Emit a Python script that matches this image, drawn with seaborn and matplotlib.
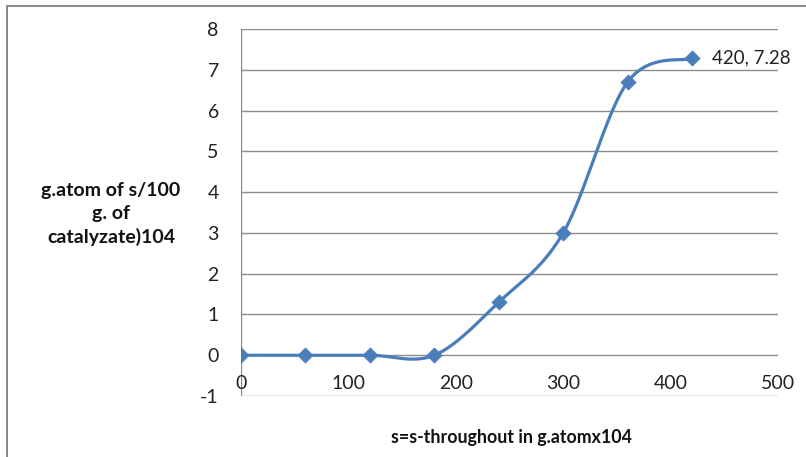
import numpy as np
import pandas as pd
import matplotlib
matplotlib.use('Agg')
import matplotlib.pyplot as plt
import seaborn as sns
from matplotlib.patches import Rectangle

# ===================== 数据 =====================
x_vals = [0, 60, 120, 180, 240, 300, 360, 420]
y_vals = [0, 0, 0, 0, 1.3, 3.0, 6.7, 7.28]
x_ticks = [0, 100, 200, 300, 400, 500]
y_ticks = [-1, 0, 1, 2, 3, 4, 5, 6, 7, 8]
x_label = 's=s-throughout in g.atomx104'
y_label = 'g.atom of s/100\ng. of\ncatalyzate)104'

sns.set_style('white')
plt.rcParams['font.family'] = ['Lato', 'DejaVu Sans']
plt.rcParams['axes.unicode_minus'] = False

BLUE = '#4A7EBB'
GRID = '#8C8C8C'


# -------------------- Excel 风格平滑曲线 --------------------
def smooth_curve(xs, ys, n=40):
    p = np.column_stack([xs, ys]).astype(float)
    pts = []
    for i in range(len(p) - 1):
        p0 = p[i - 1] if i > 0 else p[i]
        p3 = p[i + 2] if i + 2 < len(p) else p[i + 1]
        p1, p2 = p[i], p[i + 1]
        c1 = p1 + (p2 - p0) / 6
        c2 = p2 - (p3 - p1) / 6
        t = np.linspace(0, 1, n)[:, None]
        seg = ((1 - t) ** 3) * p1 + 3 * ((1 - t) ** 2) * t * c1 + 3 * (1 - t) * t ** 2 * c2 + t ** 3 * p2
        pts.append(seg if i == 0 else seg[1:])
    return np.vstack(pts)


curve = smooth_curve(x_vals, y_vals)
df_curve = pd.DataFrame({'x': curve[:, 0], 'y': curve[:, 1]})
df_pts = pd.DataFrame({'x': x_vals, 'y': y_vals})

fig = plt.figure(figsize=(8.06, 4.57), dpi=100)
ax = fig.add_axes([241 / 806, 1 - 396 / 457, (778 - 241) / 806, (396 - 29) / 457])

for yt in y_ticks:
    ax.axhline(yt, color=GRID, lw=1, zorder=0)
ax.axvline(0, color=GRID, lw=1, zorder=0)

sns.lineplot(data=df_curve, x='x', y='y', ax=ax, color=BLUE, lw=2.3, sort=False, zorder=3)
sns.scatterplot(data=df_pts, x='x', y='y', ax=ax, color=BLUE, marker='D', s=60,
                edgecolor=BLUE, linewidth=0.5, zorder=4)

ax.annotate(f'{x_vals[-1]}, {y_vals[-1]}', (x_vals[-1], y_vals[-1]), xytext=(14, 0),
            textcoords='offset points', va='center', ha='left', fontsize=13.5, color='#222222')

ax.set_xlim(0, 500)
ax.set_ylim(-1, 8)
ax.set_xticks(x_ticks)
ax.set_yticks(y_ticks)
ax.xaxis.set_tick_params(length=0, pad=-15, labelsize=14, labelcolor='#222222')
ax.yaxis.set_tick_params(length=0, pad=16, labelsize=14, labelcolor='#222222')
ax.set_xlabel('')
ax.set_ylabel('')
for s in ax.spines.values():
    s.set_visible(False)

fig.text(111 / 806, 1 - 214 / 457, y_label, ha='center', va='center', fontsize=14,
         fontweight='bold', multialignment='center', color='#111111', linespacing=1.4)
fig.text(511 / 806, 1 - 437 / 457, x_label, ha='center', va='center', fontsize=12.8,
         fontweight='bold', color='#111111')

# 外边框
fig.patches.append(Rectangle((7 / 806, -0.1), 1.2, 1 - 6 / 457 + 0.1, transform=fig.transFigure,
                             fill=False, edgecolor='#7F7F7F', lw=1.3))

fig.savefig('out.png', dpi=100)
